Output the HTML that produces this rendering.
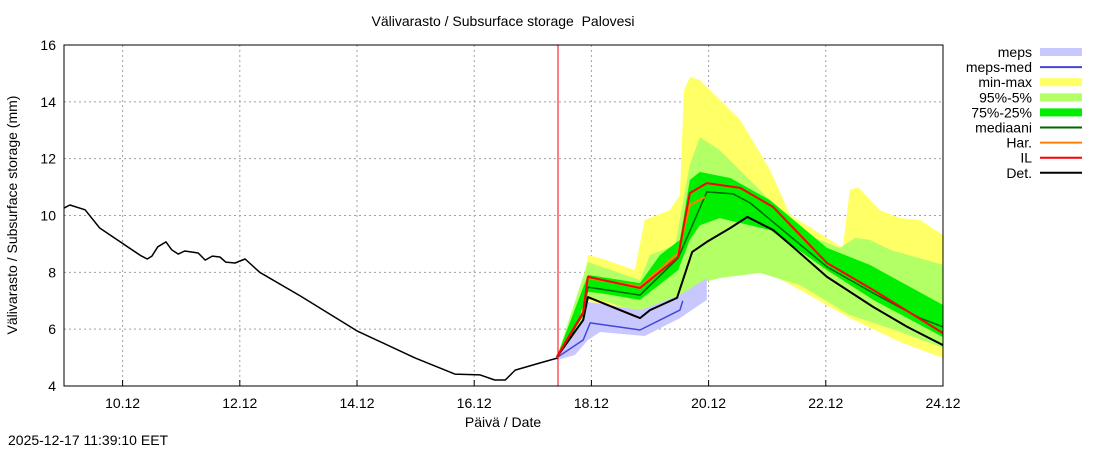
<!DOCTYPE html>
<html><head><meta charset="utf-8"><style>
body{margin:0;background:#fff;font-family:"Liberation Sans",sans-serif}
svg text{font-family:"Liberation Sans",sans-serif}
</style></head><body>
<svg id="c" width="1100" height="450" xmlns="http://www.w3.org/2000/svg">
<rect width="1100" height="450" fill="#fff"/>
<text x="503" y="26" font-size="14" text-anchor="middle">Välivarasto / Subsurface storage &#160;Palovesi</text>
<g id="grid"></g><g id="bands"></g><g id="lines"></g><g id="axes"></g>
<text x="503" y="427" font-size="14" text-anchor="middle">Päivä / Date</text>
<text transform="translate(17,215) rotate(-90)" font-size="14" text-anchor="middle">Välivarasto / Subsurface storage (mm)</text>
<text x="8" y="445" font-size="14">2025-12-17 11:39:10 EET</text>
<g id="legend"></g>
</svg>
<script>
const xTickLabels=["10.12","12.12","14.12","16.12","18.12","20.12","22.12","24.12"];
const xTickDays=[1,3,5,7,9,11,13,15];
const yTicks=[4,6,8,10,12,14,16];
const nowDay=8.43;
const histT=[0,0.10,0.36,0.61,0.96,1.30,1.42,1.50,1.60,1.74,1.84,1.95,2.06,2.29,2.41,2.53,2.66,2.76,2.92,3.09,3.34,4.03,5.0,5.99,6.67,7.10,7.35,7.53,7.70,8.12,8.43];
const histV=[10.26,10.37,10.2,9.56,9.07,8.6,8.47,8.57,8.9,9.07,8.79,8.64,8.75,8.68,8.43,8.57,8.54,8.36,8.33,8.47,8.0,7.17,5.94,4.99,4.42,4.39,4.21,4.21,4.56,4.81,4.99];
const detT=[8.41,8.86,8.94,9.83,10.0,10.46,10.72,10.97,11.37,11.66,12.10,12.44,13.02,13.81,14.39,15.0];
const detV=[5.02,6.32,7.13,6.39,6.67,7.10,8.72,9.07,9.56,9.95,9.49,8.89,7.84,6.78,6.08,5.44];
const medT=[8.41,8.86,8.94,9.83,10.48,10.97,11.42,11.71,13.02,13.81,14.61,15.0];
const medV=[5.02,6.53,7.48,7.20,8.50,10.83,10.76,10.44,8.19,7.27,6.39,6.08];
const ilT=[8.41,8.86,8.94,9.83,10.48,10.68,10.97,11.54,12.10,13.02,13.81,15.0];
const ilV=[5.02,6.60,7.84,7.45,8.54,10.79,11.14,10.97,10.30,8.33,7.38,5.86];
const harT=[8.41,8.86,8.94,9.83,10.48,10.68,10.94];
const harV=[5.02,6.60,7.80,7.50,8.68,10.37,10.65];
const mepsMedT=[8.41,8.86,8.98,9.83,10.51,10.56];
const mepsMedV=[5.0,5.62,6.22,5.97,6.67,7.0];
const mepsUpT=[8.41,8.86,8.94,9.83,10.51,10.97];
const mepsUpV=[5.02,6.39,6.96,6.67,7.20,7.80];
const mepsLoT=[8.41,8.72,8.94,9.15,9.91,10.51,10.97];
const mepsLoV=[4.91,5.09,5.62,5.90,5.76,6.39,7.03];
const mmUpT=[8.41,8.77,8.94,9.15,9.74,9.91,10.34,10.51,10.58,10.68,10.85,11.54,12.05,12.39,13.29,13.41,13.55,13.92,14.27,14.61,15.0];
const mmUpV=[5.09,6.32,8.61,8.5,8.08,9.84,10.19,10.72,14.4,14.87,14.77,13.36,11.6,10.02,8.86,10.9,11.0,10.19,9.91,9.84,9.31];
const mmLoT=[8.41,8.72,8.94,9.15,9.83,10.51,10.85,11.19,11.88,12.56,13.41,14.27,15.0];
const mmLoV=[4.91,5.44,7.0,6.85,6.25,7.0,7.55,7.91,8.15,7.38,6.39,5.55,4.99];
const p95UpT=[8.41,8.94,9.83,10.0,10.43,10.68,10.85,11.19,12.05,12.56,13.24,13.50,13.75,14.1,15.0];
const p95UpV=[5.02,8.36,7.73,8.61,8.96,11.78,12.76,12.3,10.54,9.42,8.86,9.21,9.14,8.79,8.26];
const p95LoT=[8.41,8.72,8.94,9.15,9.83,10.51,10.85,11.19,11.88,12.56,13.41,14.27,15.0];
const p95LoV=[4.99,5.55,7.03,7.03,6.6,7.2,7.62,7.8,7.98,7.55,6.5,5.9,5.34];
const p75UpT=[8.41,8.94,9.83,10.17,10.51,10.68,10.85,11.37,12.05,13.02,13.75,15.0];
const p75UpV=[5.02,7.91,7.62,8.61,9.14,11.25,11.53,11.32,10.54,8.86,8.26,6.85];
const p75LoT=[8.41,8.72,8.94,9.15,9.83,10.48,10.68,10.85,11.19,12.05,13.02,13.81,15.0];
const p75LoV=[4.99,5.97,7.31,7.27,7.03,8.08,9.14,9.66,9.91,9.49,8.08,7.03,5.72];

const X0=64,X1=943,Y0=386,Y1=45;
const xs=t=>X0+t*(X1-X0)/15;
const ys=v=>Y0-(v-4)*(Y0-Y1)/12;
const NS="http://www.w3.org/2000/svg";
function mk(tag,parent,attrs){const e=document.createElementNS(NS,tag);for(const k in attrs)e.setAttribute(k,attrs[k]);document.getElementById(parent).appendChild(e);return e;}
const pts=(T,V)=>T.map((t,i)=>xs(t).toFixed(1)+","+ys(V[i]).toFixed(1));

xTickDays.forEach((d,i)=>{
  const g=mk("line","grid",{x1:xs(d),x2:xs(d),y1:Y1,y2:Y0,stroke:"#a0a0a0","stroke-dasharray":"2,3","stroke-width":1});
  
  
  const tk=mk("line","axes",{x1:xs(d),x2:xs(d),y1:Y0,y2:Y0-6,stroke:"#000"});
  
  
  const tx=mk("text","axes",{x:xs(d),y:Y0+22,"font-size":14,"text-anchor":"middle"});
  tx.textContent=xTickLabels[i];
  
  
});
yTicks.forEach(v=>{
  const g=mk("line","grid",{x1:X0,x2:X1,y1:ys(v),y2:ys(v),stroke:"#a0a0a0","stroke-dasharray":"2,3","stroke-width":1});
  
  
  const tx=mk("text","axes",{x:X0-8,y:ys(v)+5,"font-size":14,"text-anchor":"end"});
  tx.textContent=v;
  
  
});
const fr=mk("rect","axes",{x:X0,y:Y1,width:X1-X0,height:Y0-Y1,fill:"none",stroke:"#000"});



function band(UT,UV,LT,LV,col,name){
  const p=pts(UT,UV).concat(pts(LT,LV).reverse());
  const e=mk("polygon","bands",{points:p.join(" "),fill:col});
  
  
}
band(mmUpT,mmUpV,mmLoT,mmLoV,"#ffff66","min-max-band");
band(p95UpT,p95UpV,p95LoT,p95LoV,"#b3ff66","p95-5-band");
band(p75UpT,p75UpV,p75LoT,p75LoV,"#00ee00","p75-25-band");
band(mepsUpT,mepsUpV,mepsLoT,mepsLoV,"#c8c8ff","meps-band");

function line(T,V,col,w,name){
  const e=mk("polyline","lines",{points:pts(T,V).join(" "),fill:"none",stroke:col,"stroke-width":w,"stroke-linejoin":"round"});
  
  
}
line(histT,histV,"#000",1.5,"history-line");
line(mepsMedT,mepsMedV,"#4444dd",1.5,"meps-med-line");
line(detT,detV,"#000",2,"det-line");
line(medT,medV,"#006600",1.5,"median-line");
line(harT,harV,"#ff8000",2,"har-line");
line(ilT,ilV,"#ff0000",2,"il-line");
const nl=mk("line","lines",{x1:xs(nowDay),x2:xs(nowDay),y1:Y1,y2:Y0,stroke:"#ff0000","stroke-width":1});



const legNames=["meps","meps-med","min-max","95%-5%","75%-25%","mediaani","Har.","IL","Det."];
const legCols=["#c8c8ff","#4444dd","#ffff66","#b3ff66","#00ee00","#006600","#ff8000","#ff0000","#000"];
const legBand=[1,0,1,1,1,0,0,0,0];
legNames.forEach((n,i)=>{
  const y=52+i*15.1;
  const t=mk("text","legend",{x:1032,y:y+5,"font-size":14,"text-anchor":"end"});
  t.textContent=n;
  
  
  const s=legBand[i]?mk("rect","legend",{x:1040,y:y-4,width:42,height:8,fill:legCols[i]}):mk("line","legend",{x1:1040,x2:1082,y1:y,y2:y,stroke:legCols[i],"stroke-width":2});
  
  
});
</script>
</body></html>
